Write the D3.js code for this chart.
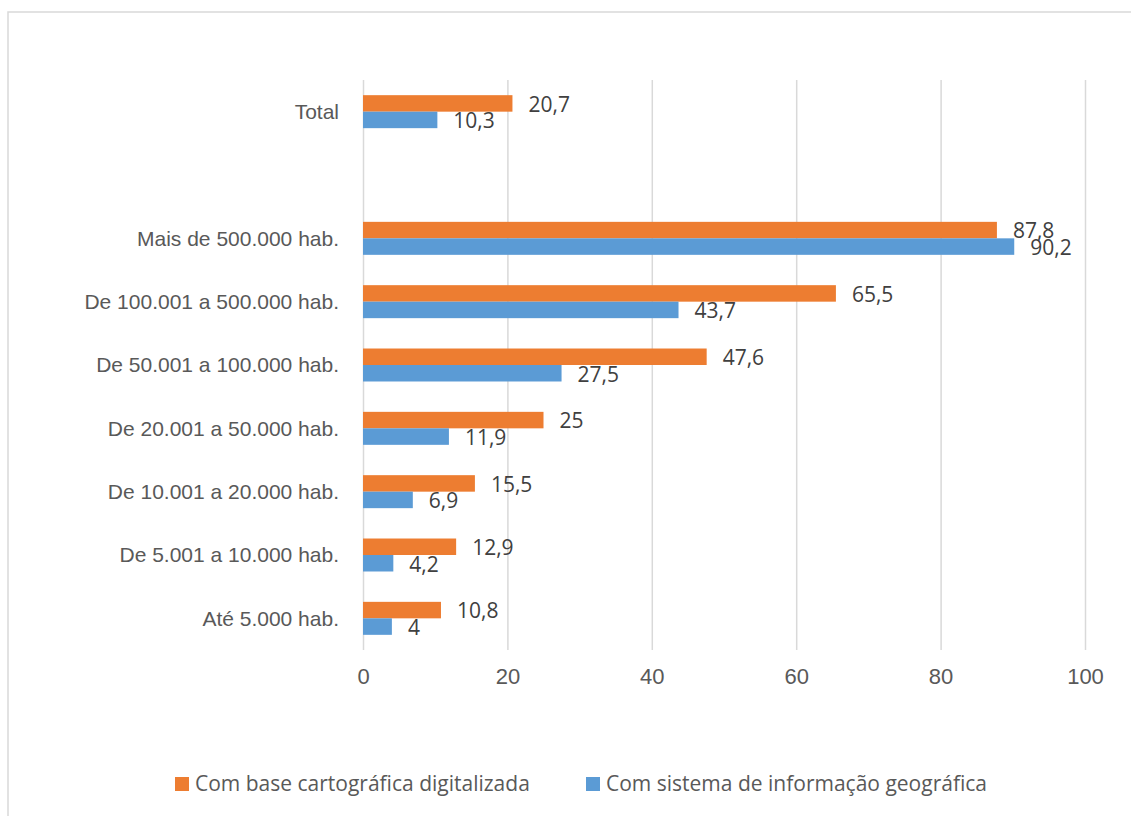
<!DOCTYPE html>
<html>
<head>
<meta charset="utf-8">
<script src="https://cdn.jsdelivr.net/npm/d3@7"></script>
<style>
  body { margin: 0; background: #fff; }
  svg { display: block; font-family: "Open Sans", "Noto Sans", sans-serif; }
  .grid-line line { stroke: #d9d9d9; stroke-width: 1.5; }
  .grid-line path { display: none; }
  .axis path, .axis line { display: none; }
  .axis text { fill: #595959; font-size: 21px; }
  .axis.x-axis text { font-size: 22px; }
  .value-label { fill: #404040; font-size: 21px; }
  .legend-label { fill: #595959; font-size: 21px; }
</style>
</head>
<body>
<div id="chart"></div>
<script>
const categories = [
  "Total",
  "",
  "Mais de 500.000 hab.",
  "De 100.001 a 500.000 hab.",
  "De 50.001 a 100.000 hab.",
  "De 20.001 a 50.000 hab.",
  "De 10.001 a 20.000 hab.",
  "De 5.001 a 10.000 hab.",
  "Até 5.000 hab."
];
const seriesNames = ["Com base cartográfica digitalizada", "Com sistema de informação geográfica"];
const baseCartografica = [20.7, null, 87.8, 65.5, 47.6, 25, 15.5, 12.9, 10.8];
const sistemaGeografico = [10.3, null, 90.2, 43.7, 27.5, 11.9, 6.9, 4.2, 4];
const xTicks = [0, 20, 40, 60, 80, 100];
const colors = ["#ED7D31", "#5B9BD5"];

const container = d3.select("#chart");
const svg = container.append("svg")
    .attr("width", "1131")
    .attr("height", "816");

// outer chart frame (runs past the right and bottom edges)
svg.append("rect")
    .attr("x", 8)
    .attr("y", 12)
    .attr("width", 1140)
    .attr("height", 820)
    .attr("fill", "none")
    .attr("stroke", "#d9d9d9")
    .attr("stroke-width", 1.5);

const margin = {top: 80, right: 46, bottom: 166, left: 363};
const width = +svg.attr("width") - margin.left - margin.right;
const height = +svg.attr("height") - margin.top - margin.bottom;
const g = svg.append("g").attr("transform", "translate(" + margin.left + "," + margin.top + ")");

const locale = d3.formatLocale({decimal: ",", thousands: ".", grouping: [3], currency: ["", ""]});
const fmt = v => locale.format(",.1f")(v).replace(/,0$/, "");

const x = d3.scaleLinear().domain([0, 100]).range([0, width]);
const y = d3.scaleBand().domain(categories).range([0, height]);
const ySeries = d3.scaleBand().domain([0, 1]).range([0, y.bandwidth()]).paddingOuter(0.92);

g.append("g")
    .attr("class", "grid-line")
    .call(d3.axisBottom(x)
        .tickValues(xTicks)
        .tickSize(height)
        .tickFormat(""));

g.append("g")
    .attr("class", "axis x-axis")
    .attr("transform", "translate(0," + height + ")")
    .call(d3.axisBottom(x).tickValues(xTicks).tickSizeInner(0).tickPadding(18).tickFormat(d3.format("d")));

g.append("g")
    .attr("class", "axis")
    .call(d3.axisLeft(y).tickSize(0).tickPadding(24))
    .selectAll("text")
    .attr("dy", "0.35em");

const rows = categories.map((c, i) => ({cat: c, values: [baseCartografica[i], sistemaGeografico[i]]}));

const groups = g.selectAll("g.row")
    .data(rows)
    .enter()
    .append("g")
    .attr("class", "row")
    .attr("transform", d => "translate(0," + y(d.cat) + ")");

const bars = groups.selectAll("g.bar")
    .data(d => d.values.map((v, s) => ({v, s})).filter(e => e.v != null))
    .enter()
    .append("g")
    .attr("class", "bar");

bars.append("rect")
    .attr("x", 0)
    .attr("y", d => ySeries(d.s))
    .attr("width", d => x(d.v))
    .attr("height", ySeries.bandwidth())
    .attr("fill", d => colors[d.s]);

bars.append("text")
    .attr("class", "value-label")
    .attr("x", d => x(d.v) + 16)
    .attr("y", d => ySeries(d.s) + ySeries.bandwidth() / 2 + 1)
    .attr("dy", "0.35em")
    .text(d => fmt(d.v));

// legend
const legendX = [175, 586];
const legend = svg.selectAll("g.legend")
    .data(seriesNames)
    .enter()
    .append("g")
    .attr("class", "legend")
    .attr("transform", (d, i) => "translate(" + legendX[i] + ",784)");

legend.append("rect")
    .attr("x", 0)
    .attr("y", -7)
    .attr("width", 14)
    .attr("height", 14)
    .attr("fill", (d, i) => colors[i]);

legend.append("text")
    .attr("class", "legend-label")
    .attr("x", 20)
    .attr("dy", "0.35em")
    .text(d => d);
</script>
</body>
</html>
